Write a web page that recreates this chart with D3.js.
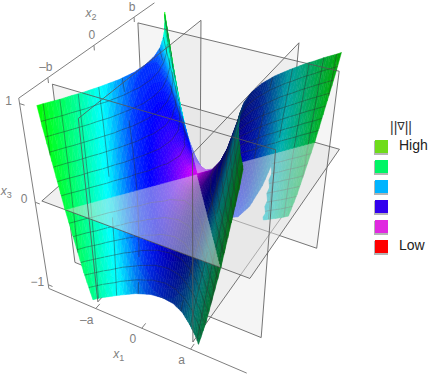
<!DOCTYPE html>
<html>
<head>
<meta charset="utf-8">
<script src="https://cdn.jsdelivr.net/npm/d3@7"></script>
<style>
body { margin: 0; background: #fff; }
svg { display: block; font-family: "Liberation Sans", sans-serif; }
</style>
</head>
<body>
<div id="chart"></div>
<script>
// surface heights, x3 at each (x1, x2) node, a and b taken as 1
const x1Nodes = [-2, -1.75, -1.5, -1.25, -1, -0.75, -0.5, -0.25, 0, 0.25, 0.5, 0.75, 1, 1.25, 1.5, 1.75, 2];
const x2Nodes = [-1.5, -1.25, -1, -0.75, -0.5, -0.25, 0, 0.25, 0.5, 0.75, 1, 1.25, 1.5];
const x3Rows = [
	[1.75, 0.81, 0, -0.69, -1.25, -1.69, -2, -2.19, -2.25, -2.19, -2, -1.69, -1.25, -0.69, 0, 0.81, 1.75],
	[2.44, 1.5, 0.69, 0, -0.56, -1, -1.31, -1.5, -1.56, -1.5, -1.31, -1, -0.56, 0, 0.69, 1.5, 2.44],
	[3, 2.06, 1.25, 0.56, 0, -0.44, -0.75, -0.94, -1, -0.94, -0.75, -0.44, 0, 0.56, 1.25, 2.06, 3],
	[3.44, 2.5, 1.69, 1, 0.44, 0, -0.31, -0.5, -0.56, -0.5, -0.31, 0, 0.44, 1, 1.69, 2.5, 3.44],
	[3.75, 2.81, 2, 1.31, 0.75, 0.31, 0, -0.19, -0.25, -0.19, 0, 0.31, 0.75, 1.31, 2, 2.81, 3.75],
	[3.94, 3, 2.19, 1.5, 0.94, 0.5, 0.19, 0, -0.06, 0, 0.19, 0.5, 0.94, 1.5, 2.19, 3, 3.94],
	[4, 3.06, 2.25, 1.56, 1, 0.56, 0.25, 0.06, 0, 0.06, 0.25, 0.56, 1, 1.56, 2.25, 3.06, 4],
	[3.94, 3, 2.19, 1.5, 0.94, 0.5, 0.19, 0, -0.06, 0, 0.19, 0.5, 0.94, 1.5, 2.19, 3, 3.94],
	[3.75, 2.81, 2, 1.31, 0.75, 0.31, 0, -0.19, -0.25, -0.19, 0, 0.31, 0.75, 1.31, 2, 2.81, 3.75],
	[3.44, 2.5, 1.69, 1, 0.44, 0, -0.31, -0.5, -0.56, -0.5, -0.31, 0, 0.44, 1, 1.69, 2.5, 3.44],
	[3, 2.06, 1.25, 0.56, 0, -0.44, -0.75, -0.94, -1, -0.94, -0.75, -0.44, 0, 0.56, 1.25, 2.06, 3],
	[2.44, 1.5, 0.69, 0, -0.56, -1, -1.31, -1.5, -1.56, -1.5, -1.31, -1, -0.56, 0, 0.69, 1.5, 2.44],
	[1.75, 0.81, 0, -0.69, -1.25, -1.69, -2, -2.19, -2.25, -2.19, -2, -1.69, -1.25, -0.69, 0, 0.81, 1.75]
];
// (x1, x2) outline of the part under the x3 = 0 plane where the picture shows no surface
const gapOutline = [[-0.5, 1], [0.9, 1], [0.72, 1.23], [0.6, 1.5], [-0.5, 1.5]];
// gradient norm to hue
const gradStops = [0, 1, 2, 2.8, 3.8, 4.7];
const hueStops = [295, 255, 228, 185, 150, 120];
// mesh lines on the surface
const x3Levels = [-6, -5, -4, -3, -2, -1, 0, 1, 2, 3, 4, 5, 6].map(k => k / 7);
const flowLevels = [-3, -2.5, -2, -1.5, -1, -0.5, 0, 0.5, 1, 1.5, 2, 2.5, 3];
// the translucent planes
const x1Planes = [-1, 1];
const x2Planes = [-1, 1];
const x3Planes = [0];
const x1Cuts = [-2, -1, 1, 2];
const x2Cuts = [-1.5, -1, 1, 1.5];
const x3Cuts = [-1, 0, 1];
// axes
const x1Ticks = [-1, 0, 1];
const x1TickLabels = ["\u2013a", "0", "a"];
const x2Ticks = [-1, 0, 1];
const x2TickLabels = ["\u2013b", "0", "b"];
const x3Ticks = [-1, 0, 1];
const x3TickLabels = ["\u22121", "0", "1"];
// legend
const legendColors = ["#6fdc1a", "#00f566", "#00b4ff", "#3300ee", "#e028e0", "#ff0000"];
const legendLabels = ["High", "", "", "", "", "Low"];

const width = 432, height = 375;
const x1Scale = d3.scaleLinear().domain([-2.08, 2.08]).range([-1, 1]);
const x2Scale = d3.scaleLinear().domain([-1.5625, 1.5625]).range([-1, 1]);
const x3Scale = d3.scaleLinear().domain([-1.05, 1.05]).range([-1, 1]);
const hueScale = d3.scaleLinear().domain(gradStops).range(hueStops).clamp(true);
// perspective camera, fitted to the corners of the box and planes
const camera = [
	[88.55, 74.95, -17.41, 197.11],
	[21.88, -40.93, -108.14, 174.01],
	[-0.05974, 0.10514, -0.08947, 1]
];

function depth(p) {
	return camera[2][0] * x1Scale(p.x1) + camera[2][1] * x2Scale(p.x2) + camera[2][2] * x3Scale(p.x3) + camera[2][3];
}
function project(p) {
	let v = [x1Scale(p.x1), x2Scale(p.x2), x3Scale(p.x3), 1];
	let w = d3.sum(v, (d, i) => d * camera[2][i]);
	return [d3.sum(v, (d, i) => d * camera[0][i]) / w, d3.sum(v, (d, i) => d * camera[1][i]) / w];
}
function pathOf(poly, close) {
	return "M" + poly.map(p => project(p).map(d => d.toFixed(2)).join(",")).join("L") + (close ? "Z" : "");
}

// gradients at the nodes, from the table
function slope(values, nodes, k) {
	let n = values.length - 1, h = nodes[1] - nodes[0];
	if (k == 0) return (-3 * values[0] + 4 * values[1] - values[2]) / (2 * h);
	if (k == n) return (3 * values[n] - 4 * values[n - 1] + values[n - 2]) / (2 * h);
	return (values[k + 1] - values[k - 1]) / (2 * h);
}
const gradX1 = x3Rows.map(row => row.map((_, i) => slope(row, x1Nodes, i)));
const gradX2 = x3Rows.map((row, j) => row.map((_, i) => slope(x3Rows.map(r => r[i]), x2Nodes, j)));

function bilerp(table, fi, fj) {
	let i = Math.min(Math.floor(fi), table[0].length - 2), j = Math.min(Math.floor(fj), table.length - 2);
	let s = fi - i, t = fj - j;
	return (1 - t) * ((1 - s) * table[j][i] + s * table[j][i + 1]) + t * ((1 - s) * table[j + 1][i] + s * table[j + 1][i + 1]);
}
function node(fi, fj) {
	return {
		x1: d3.interpolateNumber(x1Nodes[0], x1Nodes[x1Nodes.length - 1])(fi / (x1Nodes.length - 1)),
		x2: d3.interpolateNumber(x2Nodes[0], x2Nodes[x2Nodes.length - 1])(fj / (x2Nodes.length - 1)),
		x3: bilerp(x3Rows, fi, fj)
	};
}
function tileColor(fi, fj) {
	let gx = bilerp(gradX1, fi, fj), gy = bilerp(gradX2, fi, fj);
	let nx = -gx * 2.08 / 1.05, ny = -gy * 1.5625 / 1.05, len = Math.hypot(nx, ny, 1);
	let shade = Math.max(0.4, Math.min(1, 0.9 + 0.42 * nx / len + 0.22 * ny / len));
	let c = d3.rgb(d3.hsl(hueScale(Math.hypot(gx, gy)), 1, 0.5));
	return d3.rgb(c.r * shade, c.g * shade, c.b * shade).formatHex();
}

// keep the part of a polygon on one side of a height
function cut(poly, level, above) {
	let out = [];
	poly.forEach((p, i) => {
		let q = poly[(i + 1) % poly.length];
		let pIn = above ? p.x3 >= level : p.x3 <= level;
		let qIn = above ? q.x3 >= level : q.x3 <= level;
		if (pIn) out.push(p);
		if (pIn != qIn) {
			let t = (level - p.x3) / (q.x3 - p.x3);
			out.push({x1: p.x1 + t * (q.x1 - p.x1), x2: p.x2 + t * (q.x2 - p.x2), x3: level});
		}
	});
	return out;
}
function contour(poly, field, levels) {
	let segs = [];
	levels.forEach(level => {
		let hits = [];
		poly.forEach((p, i) => {
			let q = poly[(i + 1) % poly.length];
			let a = field(p) - level, b = field(q) - level;
			if (a * b < 0) {
				let t = a / (a - b);
				hits.push({x1: p.x1 + t * (q.x1 - p.x1), x2: p.x2 + t * (q.x2 - p.x2), x3: p.x3 + t * (q.x3 - p.x3)});
			}
		});
		if (hits.length == 2) segs.push(hits);
	});
	return segs;
}

// back to front: the planes split the box in slabs, camera is on the +x1, -x2, +x3 side
function slabX1(v) { return v < -1 ? 0 : v < 1 ? 2 : 4; }
function slabX2(v) { return v > 1 ? 0 : v > -1 ? 2 : 4; }
function order(k3, k2, k1) { return k3 * 25 + k2 * 5 + k1; }

let items = [];
let backFills = [];
const subdiv = 5;
for (let j = 0; j < x2Nodes.length - 1; j++) {
	for (let i = 0; i < x1Nodes.length - 1; i++) {
		for (let t = 0; t < subdiv; t++) {
			for (let s = 0; s < subdiv; s++) {
				let fi = i + s / subdiv, fj = j + t / subdiv, e = 1 / subdiv;
				let poly = [node(fi, fj), node(fi + e, fj), node(fi + e, fj + e), node(fi, fj + e)];
				poly = cut(cut(poly, 1, false), -1, true);
				if (poly.length < 3) continue;
				let fill = tileColor(fi + e / 2, fj + e / 2);
				[[cut(poly, 0, false), 0], [cut(poly, 0, true), 2]].forEach(([part, k3]) => {
					if (part.length < 3) return;
					let mid = {x1: d3.mean(part, p => p.x1), x2: d3.mean(part, p => p.x2), x3: d3.mean(part, p => p.x3)};
					if (k3 == 0 && d3.polygonContains(gapOutline, [mid.x1, mid.x2])) return;
					let key = order(k3, slabX2(mid.x2), slabX1(mid.x1));
					items.push({key, w: depth(mid), d: pathOf(part, true), fill, stroke: fill, sw: 0.5});
					// the back sheet below the plane has no mesh left of x2 = b
					if (k3 == 0 && mid.x2 > 0 && mid.x2 < 1) return;
					let segs = contour(part, p => p.x3, x3Levels).concat(contour(part, p => p.x1 * p.x2, flowLevels));
					segs.forEach(seg => {
						items.push({key, w: depth(mid) - 0.03, d: pathOf(seg, false), fill: "none", stroke: "#2c2c2c", sw: 0.7, op: 0.6});
					});
				});
			}
		}
	}
}

// a plane is cut in rectangles so each piece can go in its own slab.
// only the horizontal one veils the surface, the upright ones just leave their outline on it
function addPlane(corner, aCuts, bCuts, keyOf, veil) {
	d3.pairs(aCuts).forEach(([a0, a1]) => {
		d3.pairs(bCuts).forEach(([b0, b1]) => {
			let poly = [corner(a0, b0), corner(a1, b0), corner(a1, b1), corner(a0, b1)];
			let key = keyOf((a0 + a1) / 2, (b0 + b1) / 2);
			if (veil) items.push({key, w: 0, d: pathOf(poly, true), fill: "#e2e2e2", op: 0.5, crisp: true});
			else backFills.push({key, w: 0, d: pathOf(poly, true), fill: "#e2e2e2", op: 0.35, crisp: true});
			let aEnds = d3.extent(aCuts), bEnds = d3.extent(bCuts);
			let edges = [];
			if (a0 == aEnds[0]) edges.push([poly[0], poly[3]]);
			if (a1 == aEnds[1]) edges.push([poly[1], poly[2]]);
			if (b0 == bEnds[0]) edges.push([poly[0], poly[1]]);
			if (b1 == bEnds[1]) edges.push([poly[3], poly[2]]);
			edges.forEach(edge => {
				items.push({key, w: -1, d: pathOf(edge, false), fill: "none", stroke: "#555", sw: 0.9, op: 0.9});
			});
		});
	});
}
x3Planes.forEach(v => addPlane((a, b) => ({x1: a, x2: b, x3: v}), x1Cuts, x2Cuts,
	(a, b) => order(1, slabX2(b), slabX1(a)), true));
x1Planes.forEach(v => addPlane((a, b) => ({x1: v, x2: a, x3: b}), x2Cuts, x3Cuts,
	(a, b) => order(b < 0 ? 0 : 2, slabX2(a), v < 0 ? 1 : 3), false));
x2Planes.forEach(v => addPlane((a, b) => ({x1: a, x2: v, x3: b}), x1Cuts, x3Cuts,
	(a, b) => order(b < 0 ? 0 : 2, v > 0 ? 1 : 3, slabX1(a)), false));

items.sort((a, b) => d3.ascending(a.key, b.key) || d3.descending(a.w, b.w));
items = backFills.concat(items);

let svg = d3.select("#chart").append("svg").attr("width", width).attr("height", height);

// axes, on the edges of the box
const axisColor = "#7f7f7f";
const labelColor = "#808080";
const lo1 = x1Scale.domain()[0], hi1 = x1Scale.domain()[1];
const lo2 = x2Scale.domain()[0], hi2 = x2Scale.domain()[1];
const lo3 = x3Scale.domain()[0], hi3 = x3Scale.domain()[1];
let axes = svg.append("g").attr("fill", "none").attr("stroke", axisColor).attr("stroke-width", 1);
[
	[{x1: lo1, x2: lo2, x3: lo3}, {x1: hi1, x2: lo2, x3: lo3}],
	[{x1: lo1, x2: lo2, x3: hi3}, {x1: lo1, x2: hi2, x3: hi3}],
	[{x1: lo1, x2: lo2, x3: lo3}, {x1: lo1, x2: lo2, x3: hi3}]
].forEach(edge => axes.append("path").attr("d", pathOf(edge, false)));

function addTick(from, to, label, dx, dy) {
	axes.append("path").attr("d", pathOf([from, to], false));
	let at = project(from);
	svg.append("text").attr("x", at[0] + dx).attr("y", at[1] + dy)
		.attr("text-anchor", "middle").attr("fill", labelColor).attr("font-size", 12).text(label);
}
x1Ticks.forEach((v, i) => addTick({x1: v, x2: lo2, x3: lo3}, {x1: v, x2: lo2 + 0.1, x3: lo3}, x1TickLabels[i], -9, 15));
x2Ticks.forEach((v, i) => addTick({x1: lo1, x2: v, x3: hi3}, {x1: lo1, x2: v, x3: hi3 - 0.05}, x2TickLabels[i], -2, -6.5));
x3Ticks.forEach((v, i) => addTick({x1: lo1, x2: lo2, x3: v}, {x1: lo1 + 0.1, x2: lo2, x3: v}, x3TickLabels[i], -11, 1));

function axisLabel(p, dx, dy, sub) {
	let at = project(p);
	let t = svg.append("text").attr("x", at[0] + dx).attr("y", at[1] + dy)
		.attr("text-anchor", "middle").attr("fill", labelColor).attr("font-size", 12).attr("font-style", "italic");
	t.append("tspan").text("x");
	t.append("tspan").attr("font-size", 9).attr("font-style", "normal").attr("dy", 3).text(sub);
}
axisLabel({x1: 0, x2: lo2, x3: lo3}, -23, 30, "1");
axisLabel({x1: lo1, x2: 0, x3: hi3}, -3, -28, "2");
axisLabel({x1: lo1, x2: lo2, x3: 0}, -29, -7, "3");

// surface and planes
svg.append("g").selectAll("path").data(items).join("path")
	.attr("d", d => d.d)
	.attr("fill", d => d.fill)
	.attr("opacity", d => d.op || null)
	.attr("stroke", d => d.stroke || null)
	.attr("stroke-width", d => d.sw || null)
	.attr("shape-rendering", d => d.crisp ? "crispEdges" : null);

// legend
let legendY = d3.scaleBand().domain(d3.range(legendColors.length)).range([137, 257]);
let legend = svg.append("g");
legendColors.forEach((c, i) => {
	legend.append("rect").attr("x", 374).attr("y", legendY(i) + 4).attr("width", 14).attr("height", 14).attr("fill", "#b4b4b4");
	legend.append("rect").attr("x", 375).attr("y", legendY(i) + 3).attr("width", 13).attr("height", 13).attr("fill", c);
	if (legendLabels[i]) {
		legend.append("text").attr("x", 399).attr("y", legendY(i) + 13).attr("font-size", 14).attr("fill", "#222").text(legendLabels[i]);
	}
});
let title = legend.append("text").attr("x", 401).attr("y", 132).attr("text-anchor", "middle").attr("font-size", 14).attr("fill", "#333");
title.append("tspan").text("||");
title.append("tspan").attr("font-size", 11).attr("dy", -2).attr("font-family", "DejaVu Sans").text("\u2207");
title.append("tspan").attr("dy", 2).text("||");
</script>
</body>
</html>
